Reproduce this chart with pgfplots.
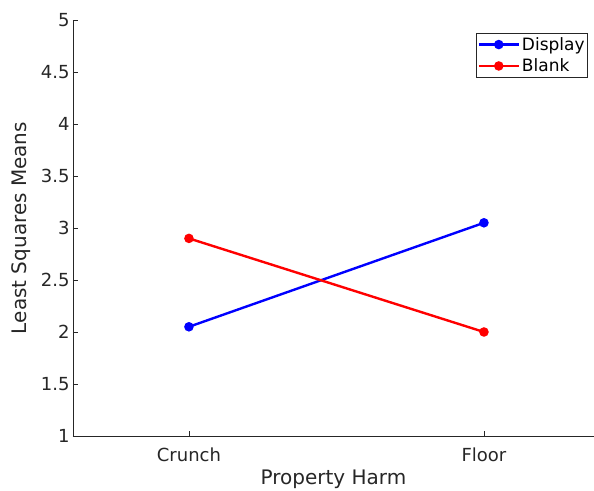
\documentclass[border=0pt]{standalone}
\usepackage{pgfplots}
\pgfplotsset{compat=1.18}
\usepackage{fontspec}
\setmainfont{DejaVu Sans}
\definecolor{axgray}{RGB}{38,38,38}
\begin{document}
\begin{tikzpicture}
\begin{axis}[
  name=ax,
  scale only axis,
  width=521pt, height=416pt,
  xmin=0.607, xmax=2.373,
  ymin=1, ymax=5,
  axis x line*=bottom,
  axis y line*=left,
  axis line style={axgray, line width=0.7pt},
  xtick={1,2}, xticklabels={Crunch,Floor},
  ytick={1,1.5,...,5},
  yticklabels={1,1.5,2,2.5,3,3.5,4,4.5,5},
  tick style={axgray, line width=0.7pt},
  major tick length=5pt,
  tick align=inside,
  ticklabel style={font=\fontsize{18}{20}\selectfont, text=axgray},
  xticklabel style={yshift=-8pt},
  /pgf/number format/assume math mode=true,
  xlabel={Property Harm}, ylabel={Least Squares Means},
  label style={font=\fontsize{20}{22}\selectfont, text=axgray},
  xlabel style={yshift=-2pt},
  ylabel style={yshift=3pt},
  legend style={at={(rel axis cs:1,1)}, anchor=north east, xshift=-6pt, yshift=-13pt,
    draw=axgray, line width=0.7pt, font=\fontsize{17}{19}\selectfont, inner xsep=1pt, inner ysep=2pt,
    row sep=3pt},
  legend cell align=left,
  legend image code/.code={\draw[#1] (0pt,0pt) -- (40pt,0pt); \draw[#1, only marks] plot coordinates {(20pt,0pt)};},
]
\addplot[blue, line width=2.4pt, mark=*, mark size=3.5pt] coordinates {(1,2.05) (2,3.05)};
\addlegendentry{Display}
\addplot[red, line width=2.4pt, mark=*, mark size=3.5pt] coordinates {(1,2.9) (2,2.0)};
\addlegendentry{Blank}
\end{axis}
\pgfresetboundingbox
\path (ax.south west) ++(-73pt,-55pt) coordinate (bl);
\path (ax.north east) ++(0pt,20pt) coordinate (tr);
\path[use as bounding box] (bl) rectangle (tr);
\end{tikzpicture}
\end{document}
